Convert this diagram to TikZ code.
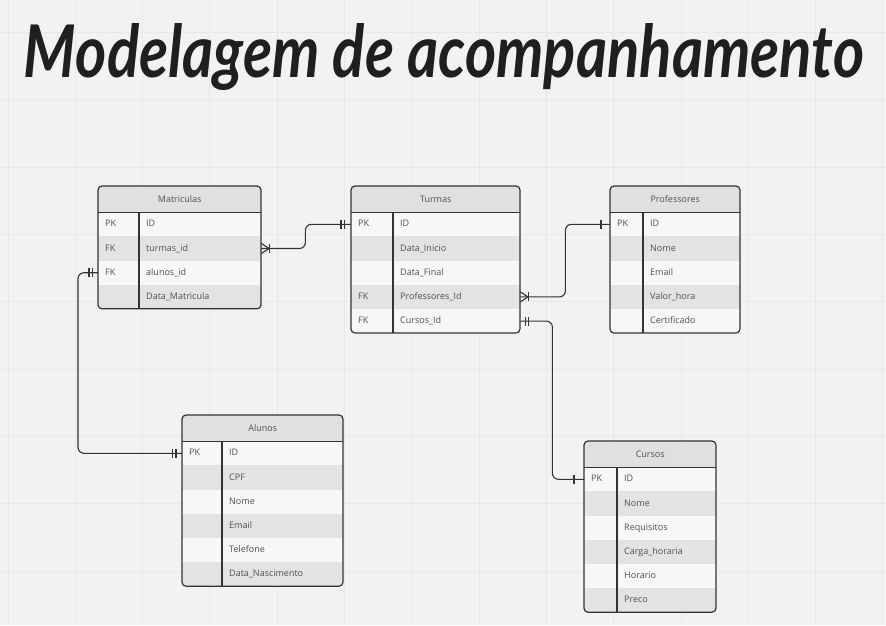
\documentclass[tikz,border=0pt]{standalone}
\usepackage{fontspec}
\setsansfont{Open Sans}
\newfontfamily\titlefont{Lato}
\usetikzlibrary{calc}

\definecolor{canvas}{HTML}{F2F2F2}
\definecolor{gridcol}{HTML}{E8E8E8}
\definecolor{edge}{HTML}{333333}
\definecolor{headfill}{HTML}{E0E0E0}
\definecolor{rowlight}{HTML}{F7F7F7}
\definecolor{rowdark}{HTML}{E3E3E3}
\definecolor{inkgray}{HTML}{505050}

% entity table: #1 name, #2 top left, #3 width, #4 key column, #5 rows, #6 title, #7 key/attribute list
\newcommand{\erentity}[7]{%
  \begin{scope}
    \clip[rounded corners=4pt] (#2) rectangle ++(#3, 26+#5*24.2);
    \node[headbox, minimum width=#3, anchor=north west] (#1-h) at (#2) {#6};
    \foreach \k/\a [count=\i] in {#7} {
      \ifodd\i \def\rowfill{rowlight}\else \def\rowfill{rowdark}\fi
      \node[rowbox, fill=\rowfill, minimum width=#3, anchor=north west] (#1-\i) at ($(#2)+(0,26+\i*24.2-24.2)$) {};
      \node[celltext, anchor=west] (#1-k\i) at ([xshift=7]#1-\i.west) {\k};
      \node[celltext, anchor=west] (#1-a\i) at ([xshift=#4+7]#1-\i.west) {\a};
    }
  \end{scope}
  \draw[edgeline] ($(#2)+(#4,26)$) -- ++(0,#5*24.2);
  \draw[edgeline] (#1-h.south west) -- (#1-h.south east);
  \draw[edgeline, rounded corners=4pt] (#2) rectangle ++(#3, 26+#5*24.2);
}
% bar across a connector end
\newcommand{\barmark}[2]{\draw[relline] ([xshift=#2,yshift=-4.5]#1) -- ([xshift=#2,yshift=4.5]#1);}
% crow's foot with bar, opening to the left
\newcommand{\crowmark}[1]{%
  \draw[relline, rounded corners=0pt] ([yshift=-5]#1) -- ([xshift=7.5]#1) -- ([yshift=5]#1);
  \barmark{#1}{8}}

\begin{document}
\begin{tikzpicture}[
    x=1pt, y=-1pt,
    gridline/.style={draw=gridcol, line width=0.9pt},
    edgeline/.style={draw=edge, line width=1.2pt},
    relline/.style={draw=edge, line width=1.1pt, rounded corners=6pt},
    headbox/.style={rectangle, fill=headfill, minimum height=26, inner sep=0pt, text=inkgray, font=\sffamily\fontsize{9}{11}\selectfont},
    rowbox/.style={rectangle, minimum height=24.2, inner sep=0pt},
    celltext/.style={inner sep=0pt, text height=6.8pt, text depth=1.8pt, text=inkgray, font=\sffamily\fontsize{9}{11}\selectfont},
    titletext/.style={inner sep=0pt, text=black!88, font=\titlefont\bfseries\itshape}
]
\path[use as bounding box, fill=canvas] (0,0) rectangle (886,625);

% background grid
\foreach \g in {0,...,13}
  \draw[gridline] (8+\g*67.3,0) -- (8+\g*67.3,625);
\foreach \g in {0,...,8}
  \draw[gridline] (0,32.6+\g*67.3) -- (886,32.6+\g*67.3);

\node[titletext, anchor=base] (title) at (444,77) {\resizebox{840pt}{54pt}{Modelagem de acompanhamento}};

\erentity{mat}{98,186}{163}{41}{4}{Matriculas}{PK/ID, FK/turmas\_id, FK/alunos\_id, {}/Data\_Matricula}
\erentity{tur}{351,186}{169}{42}{5}{Turmas}{PK/ID, {}/Data\_Inicio, {}/Data\_Final, FK/Professores\_Id, FK/Cursos\_Id}
\erentity{prof}{610,186}{130}{33}{5}{Professores}{PK/ID, {}/Nome, {}/Email, {}/Valor\_hora, {}/Certificado}
\erentity{alu}{182,415}{161}{40}{6}{Alunos}{PK/ID, {}/CPF, {}/Nome, {}/Email, {}/Telefone, {}/Data\_Nascimento}
\erentity{cur}{584,441}{132}{33}{6}{Cursos}{PK/ID, {}/Nome, {}/Requisitos, {}/Carga\_horaria, {}/Horario, {}/Preco}

% relations
\draw[relline] (mat-2.east) -- ++(44,0) |- (tur-1.west);
\draw[relline] (tur-4.east) -- ++(45,0) |- (prof-1.west);
\draw[relline] (tur-5.east) -- ++(32,0) |- (cur-1.west);
\draw[relline] (mat-3.west) -- ++(-20,0) |- (alu-1.west);

\crowmark{mat-2.east}
\barmark{tur-1.west}{-10} \barmark{tur-1.west}{-6.5}
\crowmark{tur-4.east}
\barmark{prof-1.west}{-9}
\barmark{tur-5.east}{5} \barmark{tur-5.east}{8.5}
\barmark{cur-1.west}{-10}
\barmark{mat-3.west}{-9} \barmark{mat-3.west}{-5.5}
\barmark{alu-1.west}{-9.5} \barmark{alu-1.west}{-6}
\end{tikzpicture}
\end{document}
